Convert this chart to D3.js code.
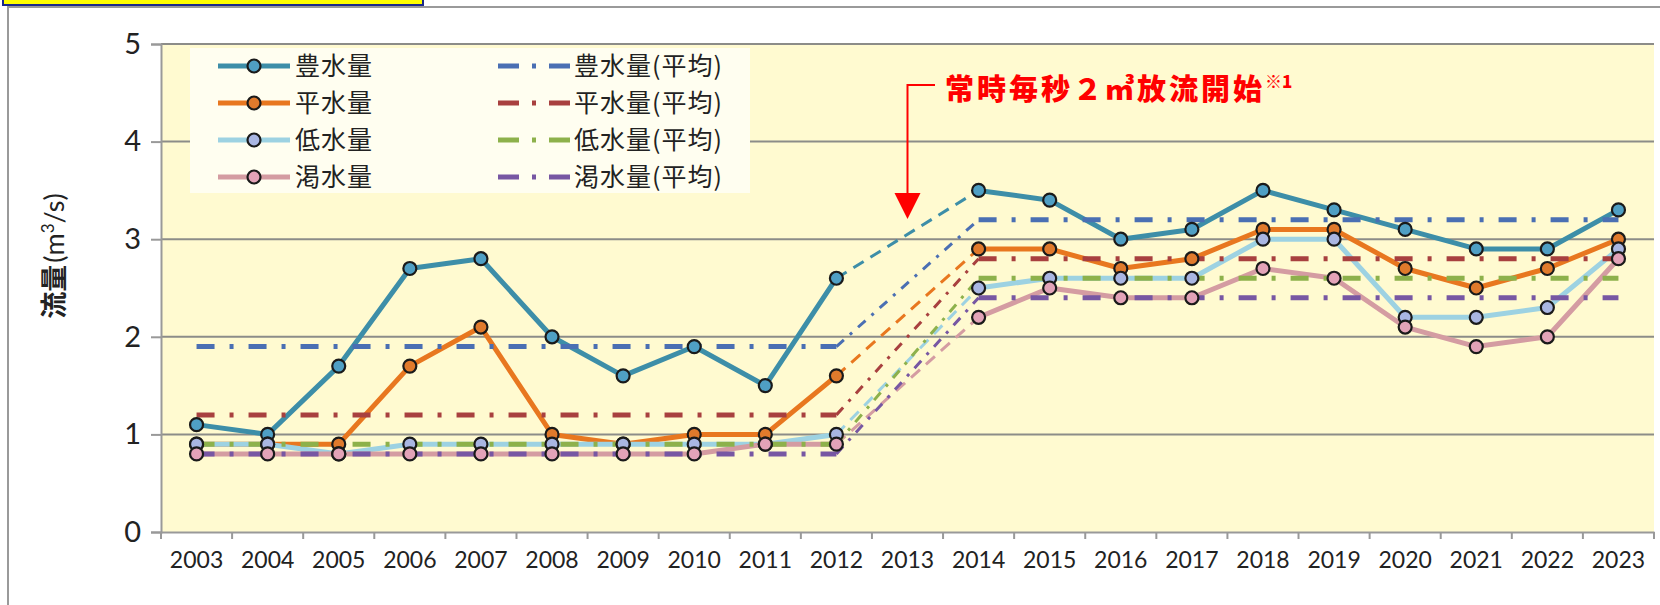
<!DOCTYPE html>
<html>
<head>
<meta charset="utf-8">
<script src="https://cdn.jsdelivr.net/npm/d3@7"></script>
<style>
  body { margin: 0; background: #fff; }
  svg { display: block; }
</style>
</head>
<body>
<svg width="1660" height="605"></svg>
<script>
// 年
var years = ["2003","2004","2005","2006","2007","2008","2009","2010","2011","2012","2013",
             "2014","2015","2016","2017","2018","2019","2020","2021","2022","2023"];

// 流量 (m3/s)、2013 はデータなし
var hou  = [1.1,1.0,1.7,2.7,2.8,2.0,1.6,1.9,1.5,2.6,null,3.5,3.4,3.0,3.1,3.5,3.3,3.1,2.9,2.9,3.3];
var hei  = [0.9,0.9,0.9,1.7,2.1,1.0,0.9,1.0,1.0,1.6,null,2.9,2.9,2.7,2.8,3.1,3.1,2.7,2.5,2.7,3.0];
var tei  = [0.9,0.9,0.8,0.9,0.9,0.9,0.9,0.9,0.9,1.0,null,2.5,2.6,2.6,2.6,3.0,3.0,2.2,2.2,2.3,2.9];
var katsu= [0.8,0.8,0.8,0.8,0.8,0.8,0.8,0.8,0.9,0.9,null,2.2,2.5,2.4,2.4,2.7,2.6,2.1,1.9,2.0,2.8];

// 平均 (放流開始前 / 後)
var houAvg   = [1.9, 3.2];
var heiAvg   = [1.2, 2.8];
var teiAvg   = [0.9, 2.6];
var katsuAvg = [0.8, 2.4];

var yTicks = [0,1,2,3,4,5];

var series = [
  {name:"豊水量", values:hou,   line:"#3d8ea8", fill:"#4f9fc4"},
  {name:"平水量", values:hei,   line:"#e8771f", fill:"#e07a2c"},
  {name:"低水量", values:tei,   line:"#9dd2e2", fill:"#a9b6e2"},
  {name:"渇水量", values:katsu, line:"#d49ca2", fill:"#e3a3b8"}
];
var avgs = [
  {name:"豊水量(平均)", values:houAvg,   color:"#4a6fb3"},
  {name:"平水量(平均)", values:heiAvg,   color:"#a8403f"},
  {name:"低水量(平均)", values:teiAvg,   color:"#8db14b"},
  {name:"渇水量(平均)", values:katsuAvg, color:"#7757a3"}
];

var svg = d3.select("svg");

// 外枠と上の黄色い札
svg.append("rect").attr("x", 8).attr("y", 7).attr("width", 1700).attr("height", 700)
  .attr("fill", "#fff").attr("stroke", "#9a9a9a").attr("stroke-width", 2);
svg.append("rect").attr("x", 3).attr("y", -10).attr("width", 420).attr("height", 15)
  .attr("fill", "#ffff00").attr("stroke", "#1c2a8a").attr("stroke-width", 2);

var x = d3.scaleBand().domain(years).range([161, 1654]);
var y = d3.scaleLinear().domain([0, 5]).range([532, 44]);
function xc(d) { return x(d) + x.bandwidth() / 2; }

// 背景
svg.append("rect").attr("x", 161).attr("y", y(5)).attr("width", 1654 - 161).attr("height", y(0) - y(5))
  .attr("fill", "#fffad0");

// 横の目盛線
svg.append("g").selectAll("line").data(yTicks.filter(function(d){ return d > 0; }))
  .enter().append("line")
  .attr("x1", 161).attr("x2", 1654)
  .attr("y1", function(d){ return y(d); }).attr("y2", function(d){ return y(d); })
  .attr("stroke", "#8c8c88").attr("stroke-width", 2);

// y軸
var yAxis = svg.append("g").attr("transform", "translate(161,0)")
  .call(d3.axisLeft(y).tickValues(yTicks).tickSize(10).tickPadding(10).tickFormat(d3.format("d")));
yAxis.select(".domain").attr("stroke", "#999").attr("stroke-width", 2);
yAxis.selectAll(".tick line").attr("stroke", "#999").attr("stroke-width", 2);
yAxis.selectAll("text").attr("font-family", "Lato, sans-serif").attr("font-size", 29).attr("fill", "#222");

// x軸
var xAxis = svg.append("g").attr("transform", "translate(0," + y(0) + ")")
  .call(d3.axisBottom(x).tickSize(0).tickPadding(20));
xAxis.select(".domain").attr("stroke", "#999").attr("stroke-width", 2);
xAxis.selectAll("text").attr("font-family", "Lato, sans-serif").attr("font-size", 23).attr("fill", "#222");
var bounds = years.map(function(d){ return x(d); }).concat([x.range()[1]]);
svg.append("g").selectAll("line").data(bounds).enter().append("line")
  .attr("x1", function(d){ return d; }).attr("x2", function(d){ return d; })
  .attr("y1", y(0)).attr("y2", y(0) + 7)
  .attr("stroke", "#999").attr("stroke-width", 2);

// y軸タイトル
var yt = svg.append("text").attr("transform", "translate(64,256) rotate(-90)")
  .attr("text-anchor", "middle").attr("font-size", 27).attr("fill", "#222")
  .attr("font-family", "'Noto Sans CJK JP', sans-serif");
yt.append("tspan").attr("font-weight", "bold").text("流量");
yt.append("tspan").attr("font-family", "Lato, sans-serif").attr("dx", 2).text("(m");
yt.append("tspan").attr("font-family", "Lato, sans-serif").attr("font-size", 17).attr("dy", -10).text("3");
yt.append("tspan").attr("font-family", "Lato, sans-serif").attr("dy", 10).text("/s)");

var line = d3.line()
  .defined(function(d){ return d.v != null; })
  .x(function(d){ return xc(d.k); })
  .y(function(d){ return y(d.v); });

function pts(values) {
  return values.map(function(v, i){ return {k: years[i], v: v}; });
}
// 2012 と 2014 をつなぐ区間
function gapPts(values) {
  var a = years.indexOf("2012"), b = years.indexOf("2014");
  return [{k: years[a], v: values[a]}, {k: years[b], v: values[b]}];
}
function avgPts(a) {
  return years.map(function(k){
    if (k === "2013") return {k: k, v: null};
    return {k: k, v: +k < 2013 ? a[0] : a[1]};
  });
}

var dashDot = "18 15 4 15";

// 実測値の線
series.forEach(function(s){
  svg.append("path").datum(pts(s.values)).attr("d", line)
    .attr("fill", "none").attr("stroke", s.line).attr("stroke-width", 5).attr("stroke-linejoin", "round");
  svg.append("path").datum(gapPts(s.values)).attr("d", line)
    .attr("fill", "none").attr("stroke", s.line).attr("stroke-width", 3).attr("stroke-dasharray", "12 8");
});

// 平均の線
avgs.forEach(function(s){
  var p = avgPts(s.values);
  svg.append("path").datum(p).attr("d", line)
    .attr("fill", "none").attr("stroke", s.color).attr("stroke-width", 5).attr("stroke-dasharray", dashDot);
  svg.append("path").datum([p[9], p[11]]).attr("d", line)
    .attr("fill", "none").attr("stroke", s.color).attr("stroke-width", 3).attr("stroke-dasharray", "10 8 3 8");
});

// マーカー
series.forEach(function(s){
  svg.append("g").selectAll("circle").data(pts(s.values).filter(function(d){ return d.v != null; }))
    .enter().append("circle")
    .attr("cx", function(d){ return xc(d.k); }).attr("cy", function(d){ return y(d.v); })
    .attr("r", 6.5).attr("fill", s.fill).attr("stroke", "#1a1a1a").attr("stroke-width", 2.2);
});

// 凡例
var lg = svg.append("g");
lg.append("rect").attr("x", 190).attr("y", 48).attr("width", 560).attr("height", 145).attr("fill", "#fffef0");
var rowY = [66, 103, 140, 177];
series.forEach(function(s, i){
  var g = lg.append("g").attr("transform", "translate(0," + rowY[i] + ")");
  g.append("line").attr("x1", 218).attr("x2", 290).attr("stroke", s.line).attr("stroke-width", 5);
  g.append("circle").attr("cx", 254).attr("r", 6.5).attr("fill", s.fill).attr("stroke", "#1a1a1a").attr("stroke-width", 2.2);
  g.append("text").attr("x", 295).attr("dy", "0.36em").attr("font-size", 25).attr("letter-spacing", 1)
    .attr("font-family", "'Noto Sans CJK JP', sans-serif").attr("fill", "#222").text(s.name);
});
avgs.forEach(function(s, i){
  var g = lg.append("g").attr("transform", "translate(0," + rowY[i] + ")");
  g.append("line").attr("x1", 498).attr("x2", 570).attr("stroke", s.color).attr("stroke-width", 5)
    .attr("stroke-dasharray", "21 13 4 13");
  g.append("text").attr("x", 574).attr("dy", "0.36em").attr("font-size", 25).attr("letter-spacing", 1)
    .attr("font-family", "'Noto Sans CJK JP', sans-serif").attr("fill", "#222").text(s.name);
});

// 注記と矢印
var ax = xc("2013");
svg.append("path").attr("d", "M935,85 H" + ax + " V196")
  .attr("fill", "none").attr("stroke", "#ff0000").attr("stroke-width", 2);
svg.append("path").attr("d", "M" + (ax - 13) + ",193 L" + (ax + 13) + ",193 L" + ax + ",219 Z")
  .attr("fill", "#ff0000");
var note = svg.append("text").attr("x", 945).attr("y", 100).attr("font-size", 29).attr("font-weight", 900)
  .attr("fill", "#ff0000").attr("font-family", "'Noto Sans CJK JP', sans-serif").attr("letter-spacing", 3);
note.append("tspan").text("常時毎秒２㎥放流開始");
note.append("tspan").attr("font-size", 17).attr("dy", -12).attr("letter-spacing", 0).text("※1");
</script>
</body>
</html>
